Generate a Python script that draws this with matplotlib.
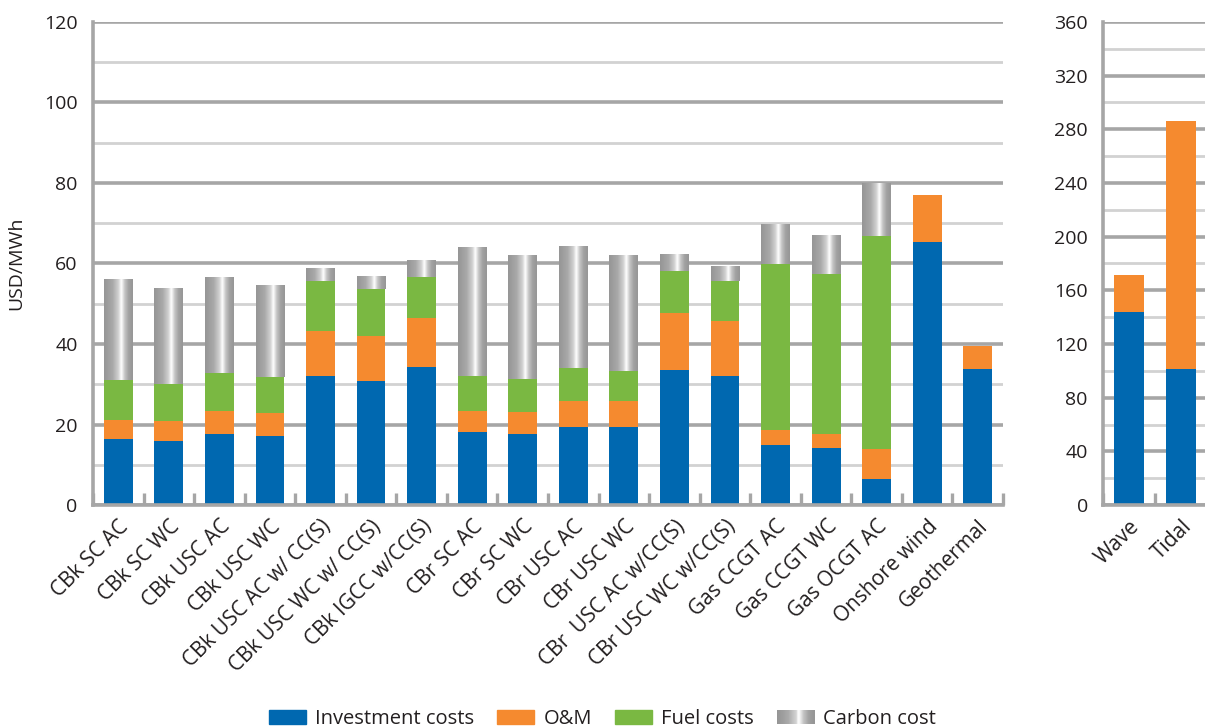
import numpy as np
import matplotlib
matplotlib.use("Agg")
import matplotlib.pyplot as plt
from matplotlib.colors import LinearSegmentedColormap, to_hex
from matplotlib.patches import Patch, Rectangle
from matplotlib.legend_handler import HandlerBase

plt.rcParams['font.family'] = ['Open Sans', 'DejaVu Sans']

# data, USD/MWh
techs = ["CBk SC AC", "CBk SC WC", "CBk USC AC", "CBk USC WC",
         "CBk USC AC w/ CC(S)", "CBk USC WC w/ CC(S)", "CBk IGCC w/CC(S)",
         "CBr SC AC", "CBr SC WC", "CBr USC AC", "CBr USC WC",
         "CBr  USC AC w/CC(S)", "CBr USC WC w/CC(S)",
         "Gas CCGT AC", "Gas CCGT WC", "Gas OCGT AC", "Onshore wind", "Geothermal"]
invest = [16.4, 15.9, 17.7, 17.2, 32.1, 30.9, 34.4, 18.1, 17.6, 19.4, 19.4,
          33.5, 32.0, 14.9, 14.2, 6.5, 65.3, 33.8]
om = [4.7, 5.0, 5.7, 5.7, 11.2, 11.2, 12.1, 5.3, 5.5, 6.4, 6.4,
      14.2, 13.7, 3.8, 3.5, 7.4, 11.6, 5.7]
fuel = [10.0, 9.2, 9.4, 8.9, 12.4, 11.5, 10.2, 8.7, 8.2, 8.2, 7.5,
        10.4, 10.0, 41.2, 39.8, 52.9, 0.0, 0.0]
carbon = [25.0, 23.8, 23.8, 22.7, 3.2, 3.0, 4.2, 32.0, 30.6, 30.1, 28.6,
          4.0, 3.7, 9.9, 9.5, 13.0, 0.0, 0.0]

marine = ["Wave", "Tidal"]
marine_invest = [143.6, 101.0]
marine_om = [27.6, 185.3]

blue = '#0068b0'
orange = '#f58a2f'
green = '#7ab842'
grid_major = '#a6a6a6'
grid_minor = '#d2d2d2'
txt = '#231f20'

metal = LinearSegmentedColormap.from_list(
    'metal', [(0.0, '#959595'), (0.3, '#a9a9a9'), (0.5, '#d2d2d2'),
              (0.6, '#ffffff'), (0.72, '#c4c4c4'), (0.85, '#a2a2a2'),
              (1.0, '#969696')])
grad = np.linspace(0, 1, 256).reshape(1, -1)


class MetalHandler(HandlerBase):
    # legend key drawn as thin strips following the metallic gradient
    def create_artists(self, legend, orig, xd, yd, width, height, fontsize, trans):
        n = 40
        out = []
        for i in range(n):
            r = Rectangle((-xd + width * i / n, -yd), width / n + 0.3, height,
                          facecolor=to_hex(metal(i / (n - 1))), edgecolor='none',
                          transform=trans)
            out.append(r)
        return out


def style_axis(ax, ymax, major, minor, n):
    ax.set_xlim(-0.5, n - 0.5)
    ax.set_ylim(0, ymax)
    ax.set_yticks(np.arange(0, ymax + 1, major))
    ax.set_yticks(np.arange(minor, ymax, minor * 2), minor=True)
    ax.set_xticks(np.arange(-0.5, n, 1.0), minor=True)
    ax.set_axisbelow(True)
    ax.grid(axis='y', which='major', color=grid_major, lw=2.6)
    ax.grid(axis='y', which='minor', color=grid_minor, lw=2.0)
    for s in ['top', 'right']:
        ax.spines[s].set_visible(False)
    for s in ['left', 'bottom']:
        ax.spines[s].set_color(grid_major)
        ax.spines[s].set_linewidth(2.6)
    ax.tick_params(axis='y', which='both', length=0, pad=11, labelsize=14,
                   labelcolor=txt)
    ax.tick_params(axis='x', which='major', length=0, pad=8, labelsize=15)
    ax.tick_params(axis='x', which='minor', direction='in', length=9, width=2.4,
                   color=grid_major)


def set_cats(ax, pos, names):
    ax.set_xticks(pos)
    ax.set_xticklabels(names, rotation=45, ha='right', rotation_mode='anchor',
                       color=txt)


fig = plt.figure(figsize=(12.05, 7.28), dpi=100)
ax = fig.add_axes([0.0772, 0.3063, 0.7552, 0.6635])
ax2 = fig.add_axes([0.9154, 0.3063, 0.0863, 0.6635])

w = 0.57
x = np.arange(len(techs))
b1 = np.array(invest)
b2 = b1 + np.array(om)
b3 = b2 + np.array(fuel)
ax.bar(x, invest, w, color=blue, zorder=2)
ax.bar(x, om, w, bottom=b1, color=orange, zorder=2)
ax.bar(x, fuel, w, bottom=b2, color=green, zorder=2)
for xi, bot, h in zip(x, b3, carbon):
    if h > 0:
        ax.imshow(grad, cmap=metal, aspect='auto', zorder=2,
                  extent=(xi - w / 2, xi + w / 2, bot, bot + h))
style_axis(ax, 120, 20, 10, len(techs))
set_cats(ax, x, techs)
ax.set_ylabel("USD/MWh", fontsize=14, color=txt)
ax.yaxis.set_label_coords(-0.074, 0.5)

x2 = np.arange(len(marine))
ax2.bar(x2, marine_invest, w, color=blue, zorder=2)
ax2.bar(x2, marine_om, w, bottom=marine_invest, color=orange, zorder=2)
style_axis(ax2, 360, 40, 20, len(marine))
set_cats(ax2, x2, marine)

handles = [Patch(color=blue), Patch(color=orange), Patch(color=green),
           Patch(color='#b0b0b0')]
labels = ["Investment costs", "O&M", "Fuel costs", "Carbon cost"]
fig.legend(handles, labels, loc='lower center', bbox_to_anchor=(0.5, -0.026),
           ncol=4, frameon=False, fontsize=14.5, handlelength=1.84,
           handleheight=0.7, handletextpad=0.45, columnspacing=1.15,
           labelcolor=txt, handler_map={handles[3]: MetalHandler()})

fig.savefig("out.png", dpi=100)
